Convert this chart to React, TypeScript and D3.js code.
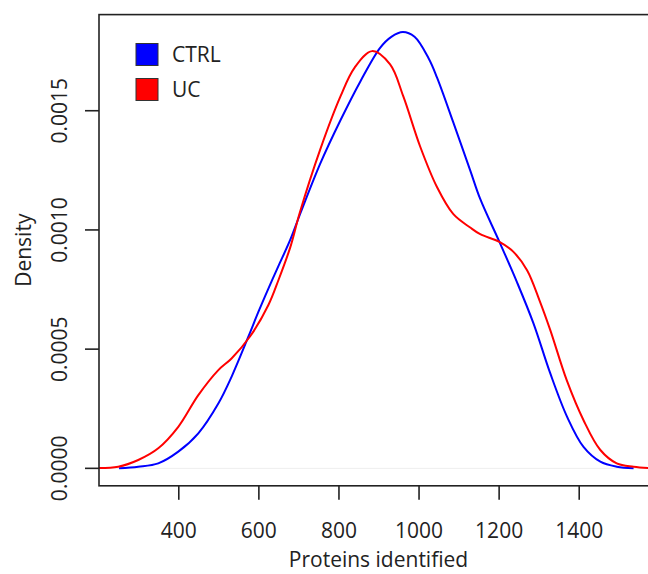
import React, { useEffect, useRef } from "react";
import * as d3 from "d3";

// density estimates
const ctrlX = [252, 300, 350, 400, 450, 500, 533, 575, 600, 625, 650, 680, 705, 755, 805, 855, 904, 932, 961, 990, 1025, 1046, 1087, 1129, 1154, 1202, 1246, 1287, 1329, 1371, 1412, 1454, 1495, 1537];
const ctrlDensity = [0.0000005, 0.000007, 0.000021, 0.00007, 0.000147, 0.000272, 0.000384, 0.000552, 0.000656, 0.000754, 0.000848, 0.00096, 0.00107, 0.00128, 0.00146, 0.001624, 0.001764, 0.00181, 0.00183, 0.00181, 0.00172, 0.00164, 0.00145, 0.00125, 0.00113, 0.00095, 0.00078, 0.000608, 0.000398, 0.000216, 0.00009, 0.000028, 0.000007, 0.0000005];

const ucX = [190, 250, 300, 350, 400, 450, 500, 533, 580, 625, 650, 680, 703, 755, 805, 840, 884, 929, 962, 1004, 1046, 1087, 1129, 1154, 1202, 1237, 1271, 1302, 1329, 1370, 1412, 1454, 1495, 1537, 1580];
const ucDensity = [0.000001, 0.000007, 0.000035, 0.000084, 0.000174, 0.000307, 0.000412, 0.000461, 0.000555, 0.000685, 0.000789, 0.000929, 0.00107, 0.00134, 0.00156, 0.00168, 0.00175, 0.001694, 0.00156, 0.00135, 0.00118, 0.001066, 0.00101, 0.000982, 0.00095, 0.000908, 0.000831, 0.000705, 0.00058, 0.00037, 0.000202, 0.000077, 0.000021, 0.000007, 0.000001];

const xTicks = [400, 600, 800, 1000, 1200, 1400];
const yTicks = [0, 0.0005, 0.001, 0.0015];
const legendLabels = ["CTRL", "UC"];
const legendColors = ["#0000ff", "#ff0000"];

const FONT = "'Open Sans', 'DejaVu Sans', sans-serif";

const App = () => {
  const ref = useRef<SVGSVGElement>(null);

  useEffect(() => {
    drawChart();
  }, []);

  const drawChart = () => {
    const svg = d3.select(ref.current);
    svg.selectAll("*").remove();

    const left = 99, right = 654, top = 14.6, bottom = 485.8;

    const x = d3.scaleLinear().domain([202, 1588]).range([left, right]);
    const y = d3.scaleLinear().domain([-0.0000732, 0.0019032]).range([bottom, top]);

    svg.append("defs").append("clipPath").attr("id", "plotClip")
      .append("rect")
      .attr("x", left).attr("y", top)
      .attr("width", right - left).attr("height", bottom - top);

    // zero line
    svg.append("line")
      .attr("x1", left).attr("x2", right)
      .attr("y1", y(0)).attr("y2", y(0))
      .attr("stroke", "#eeeeee")
      .attr("stroke-width", 1);

    const line = d3.line<[number, number]>()
      .x(d => x(d[0]))
      .y(d => y(Math.max(0, d[1])))
      .curve(d3.curveCatmullRom.alpha(0.5));

    const ctrl: [number, number][] = ctrlX.map((v, i) => [v, ctrlDensity[i]]);
    const uc: [number, number][] = ucX.map((v, i) => [v, ucDensity[i]]);

    const g = svg.append("g").attr("clip-path", "url(#plotClip)");
    g.append("path").datum(ctrl)
      .attr("fill", "none").attr("stroke", "#0000ff").attr("stroke-width", 2)
      .attr("d", line);
    g.append("path").datum(uc)
      .attr("fill", "none").attr("stroke", "#ff0000").attr("stroke-width", 2)
      .attr("d", line);

    // box
    svg.append("rect")
      .attr("x", left).attr("y", top)
      .attr("width", right - left).attr("height", bottom - top)
      .attr("fill", "none").attr("stroke", "#222").attr("stroke-width", 1.6);

    // x axis
    const xa = svg.append("g")
      .attr("transform", `translate(0,${bottom})`)
      .call(d3.axisBottom(x).tickValues(xTicks).tickSize(14).tickPadding(23).tickFormat(d3.format("d")));
    xa.select(".domain").remove();
    xa.selectAll("line").attr("stroke", "#222").attr("stroke-width", 1.6);
    xa.selectAll("text").attr("font-family", FONT).attr("font-size", 21).attr("fill", "#222");

    // y axis
    const ya = svg.append("g").attr("transform", `translate(${left},0)`);
    ya.selectAll("line").data(yTicks).join("line")
      .attr("x1", 0).attr("x2", -14)
      .attr("y1", d => y(d)).attr("y2", d => y(d))
      .attr("stroke", "#222").attr("stroke-width", 1.6);
    ya.selectAll("text").data(yTicks).join("text")
      .attr("transform", d => `translate(-32,${y(d)}) rotate(-90)`)
      .attr("text-anchor", "middle")
      .attr("font-family", FONT).attr("font-size", 21).attr("fill", "#222")
      .text(d => d3.format(".4f")(d));

    // axis titles
    svg.append("text")
      .attr("x", (x(400) + x(1400)) / 2).attr("y", 567)
      .attr("text-anchor", "middle")
      .attr("font-family", FONT).attr("font-size", 21).attr("fill", "#222")
      .text("Proteins identified");
    svg.append("text")
      .attr("transform", `translate(31,${(top + bottom) / 2}) rotate(-90)`)
      .attr("text-anchor", "middle")
      .attr("font-family", FONT).attr("font-size", 21).attr("fill", "#222")
      .text("Density");

    // legend
    const lg = svg.append("g");
    legendLabels.forEach((lab, i) => {
      lg.append("rect")
        .attr("x", 136).attr("y", 43.5 + i * 35)
        .attr("width", 22).attr("height", 22)
        .attr("fill", legendColors[i]).attr("stroke", "#333").attr("stroke-width", 1);
      lg.append("text")
        .attr("x", 172).attr("y", 62 + i * 35)
        .attr("font-family", FONT).attr("font-size", 21).attr("fill", "#222")
        .text(lab);
    });
  };

  return (
    <svg
      ref={ref}
      width={648}
      height={574}
      style={{ position: "absolute", left: 0, top: 0, background: "#fff" }}
    />
  );
};

export default App;
